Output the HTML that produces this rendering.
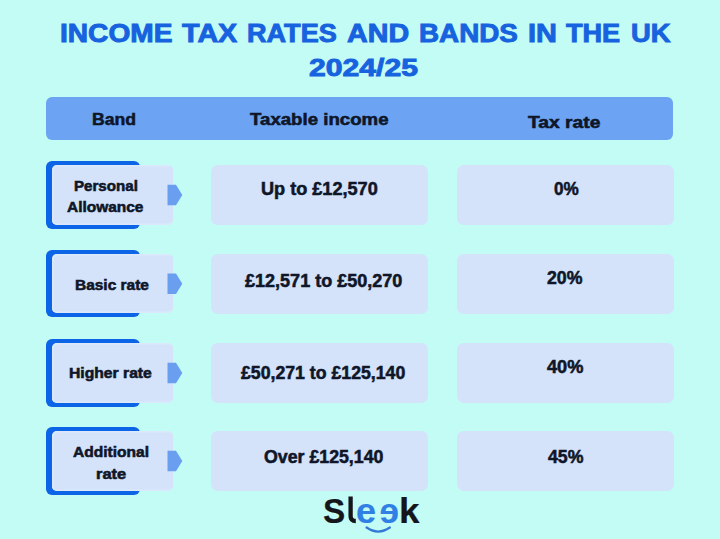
<!DOCTYPE html><html><head><meta charset="utf-8"><style>
html,body{margin:0;padding:0}
body{width:720px;height:539px;overflow:hidden;position:relative;background:#c3fbf5;font-family:"Liberation Sans",sans-serif}
.a{position:absolute}
.tx{position:absolute;white-space:nowrap;line-height:1;font-weight:700;transform-origin:0 0}
</style></head><body>

<div class="a" style="left:46.2px;top:97px;width:626.9px;height:42.8px;border-radius:6px;background:#6ca4f3"></div>
<div class="a" style="left:45.9px;top:160.8px;width:94.6px;height:68.2px;border-radius:6px;background:#0c64e6"></div>
<div class="a" style="left:51.8px;top:164.7px;width:121.2px;height:60.3px;border-radius:5px;background:#d4e2fa;box-shadow:inset 1.5px 1.5px 0 #dce9fc,inset 0 -1.5px 0 #dce9fc"></div>
<svg class="a" style="left:0;top:0" width="720" height="539"><polygon points="167.5,184.7 176,184.7 182.3,195.0 176,205.3 167.5,205.3" fill="#6a9ff0"/></svg>
<div class="a" style="left:211px;top:165.0px;width:216.5px;height:60.0px;border-radius:7px;background:#d4e2fa"></div>
<div class="a" style="left:457px;top:165.0px;width:216.5px;height:60.0px;border-radius:7px;background:#d4e2fa"></div>
<div class="a" style="left:45.9px;top:249.8px;width:94.6px;height:67.7px;border-radius:6px;background:#0c64e6"></div>
<div class="a" style="left:51.8px;top:253.7px;width:121.2px;height:59.8px;border-radius:5px;background:#d4e2fa;box-shadow:inset 1.5px 1.5px 0 #dce9fc,inset 0 -1.5px 0 #dce9fc"></div>
<svg class="a" style="left:0;top:0" width="720" height="539"><polygon points="167.5,273.4 176,273.4 182.3,283.8 176,294.1 167.5,294.1" fill="#6a9ff0"/></svg>
<div class="a" style="left:211px;top:254.0px;width:216.5px;height:59.5px;border-radius:7px;background:#d4e2fa"></div>
<div class="a" style="left:457px;top:254.0px;width:216.5px;height:59.5px;border-radius:7px;background:#d4e2fa"></div>
<div class="a" style="left:45.9px;top:338.8px;width:94.6px;height:68.2px;border-radius:6px;background:#0c64e6"></div>
<div class="a" style="left:51.8px;top:342.7px;width:121.2px;height:60.3px;border-radius:5px;background:#d4e2fa;box-shadow:inset 1.5px 1.5px 0 #dce9fc,inset 0 -1.5px 0 #dce9fc"></div>
<svg class="a" style="left:0;top:0" width="720" height="539"><polygon points="167.5,362.7 176,362.7 182.3,373.0 176,383.3 167.5,383.3" fill="#6a9ff0"/></svg>
<div class="a" style="left:211px;top:343.0px;width:216.5px;height:60.0px;border-radius:7px;background:#d4e2fa"></div>
<div class="a" style="left:457px;top:343.0px;width:216.5px;height:60.0px;border-radius:7px;background:#d4e2fa"></div>
<div class="a" style="left:45.9px;top:426.8px;width:94.6px;height:68.2px;border-radius:6px;background:#0c64e6"></div>
<div class="a" style="left:51.8px;top:430.7px;width:121.2px;height:60.3px;border-radius:5px;background:#d4e2fa;box-shadow:inset 1.5px 1.5px 0 #dce9fc,inset 0 -1.5px 0 #dce9fc"></div>
<svg class="a" style="left:0;top:0" width="720" height="539"><polygon points="167.5,450.7 176,450.7 182.3,461.0 176,471.3 167.5,471.3" fill="#6a9ff0"/></svg>
<div class="a" style="left:211px;top:431.0px;width:216.5px;height:60.0px;border-radius:7px;background:#d4e2fa"></div>
<div class="a" style="left:457px;top:431.0px;width:216.5px;height:60.0px;border-radius:7px;background:#d4e2fa"></div>
<div class="tx" id="t1a" style="left:59.58px;top:21.25px;font-size:25.00px;color:#1762de;transform:scaleX(1.1242);letter-spacing:0.00px;-webkit-text-stroke:0.90px #1762de">INCOME</div>
<div class="tx" id="t1b" style="left:182.00px;top:21.25px;font-size:25.00px;color:#1762de;transform:scaleX(1.1479);letter-spacing:0.00px;-webkit-text-stroke:0.90px #1762de">TAX</div>
<div class="tx" id="t1c" style="left:247.32px;top:21.25px;font-size:25.00px;color:#1762de;transform:scaleX(1.0829);letter-spacing:0.00px;-webkit-text-stroke:0.90px #1762de">RATES</div>
<div class="tx" id="t1d" style="left:347.00px;top:21.25px;font-size:25.00px;color:#1762de;transform:scaleX(1.1463);letter-spacing:0.00px;-webkit-text-stroke:0.90px #1762de">AND</div>
<div class="tx" id="t1e" style="left:418.79px;top:21.25px;font-size:25.00px;color:#1762de;transform:scaleX(1.1125);letter-spacing:0.00px;-webkit-text-stroke:0.90px #1762de">BANDS</div>
<div class="tx" id="t1f" style="left:528.24px;top:21.25px;font-size:25.00px;color:#1762de;transform:scaleX(1.1565);letter-spacing:0.00px;-webkit-text-stroke:0.90px #1762de">IN</div>
<div class="tx" id="t1g" style="left:565.80px;top:21.25px;font-size:25.00px;color:#1762de;transform:scaleX(1.0840);letter-spacing:0.00px;-webkit-text-stroke:0.90px #1762de">THE</div>
<div class="tx" id="t1h" style="left:630.61px;top:21.25px;font-size:25.00px;color:#1762de;transform:scaleX(1.0943);letter-spacing:0.00px;-webkit-text-stroke:0.90px #1762de">UK</div>
<div class="tx" id="t2" style="left:309.00px;top:56.17px;font-size:24.50px;color:#1762de;transform:scaleX(1.2303);letter-spacing:0.00px;-webkit-text-stroke:0.90px #1762de">2024/25</div>
<div class="tx" id="h1" style="left:91.73px;top:110.77px;font-size:16.50px;color:#0f1628;transform:scaleX(1.0675);letter-spacing:0.00px;-webkit-text-stroke:0.55px #0f1628">Band</div>
<div class="tx" id="h2" style="left:250.00px;top:110.88px;font-size:16.50px;color:#0f1628;transform:scaleX(1.1301);letter-spacing:0.00px;-webkit-text-stroke:0.55px #0f1628">Taxable income</div>
<div class="tx" id="h3" style="left:528.30px;top:114.28px;font-size:16.50px;color:#0f1628;transform:scaleX(1.1661);letter-spacing:0.00px;-webkit-text-stroke:0.55px #0f1628">Tax rate</div>
<div class="tx" id="r1a" style="left:73.53px;top:178.53px;font-size:14.20px;color:#0f1628;transform:scaleX(1.0655);letter-spacing:0.00px;-webkit-text-stroke:0.55px #0f1628">Personal</div>
<div class="tx" id="r1b" style="left:67.10px;top:199.63px;font-size:14.20px;color:#0f1628;transform:scaleX(1.0886);letter-spacing:0.00px;-webkit-text-stroke:0.55px #0f1628">Allowance</div>
<div class="tx" id="r1c" style="left:260.69px;top:180.00px;font-size:18.00px;color:#0f1628;transform:scaleX(1.0061);letter-spacing:0.00px;-webkit-text-stroke:0.55px #0f1628">Up to £12,570</div>
<div class="tx" id="r1d" style="left:553.80px;top:180.38px;font-size:18.50px;color:#0f1628;transform:scaleX(0.9259);letter-spacing:0.00px;-webkit-text-stroke:0.55px #0f1628">0%</div>
<div class="tx" id="r2a" style="left:74.91px;top:277.73px;font-size:14.20px;color:#0f1628;transform:scaleX(1.0896);letter-spacing:0.00px;-webkit-text-stroke:0.55px #0f1628">Basic rate</div>
<div class="tx" id="r2c" style="left:245.00px;top:271.90px;font-size:18.00px;color:#0f1628;transform:scaleX(1.0013);letter-spacing:0.00px;-webkit-text-stroke:0.55px #0f1628">£12,571 to £50,270</div>
<div class="tx" id="r2d" style="left:547.30px;top:269.07px;font-size:18.50px;color:#0f1628;transform:scaleX(0.9568);letter-spacing:0.00px;-webkit-text-stroke:0.55px #0f1628">20%</div>
<div class="tx" id="r3a" style="left:68.79px;top:365.83px;font-size:14.20px;color:#0f1628;transform:scaleX(1.1054);letter-spacing:0.00px;-webkit-text-stroke:0.55px #0f1628">Higher rate</div>
<div class="tx" id="r3c" style="left:241.40px;top:363.80px;font-size:18.00px;color:#0f1628;transform:scaleX(0.9826);letter-spacing:0.00px;-webkit-text-stroke:0.55px #0f1628">£50,271 to £125,140</div>
<div class="tx" id="r3d" style="left:547.00px;top:358.38px;font-size:18.50px;color:#0f1628;transform:scaleX(0.9838);letter-spacing:0.00px;-webkit-text-stroke:0.55px #0f1628">40%</div>
<div class="tx" id="r4a" style="left:73.00px;top:445.13px;font-size:14.20px;color:#0f1628;transform:scaleX(1.0957);letter-spacing:0.00px;-webkit-text-stroke:0.55px #0f1628">Additional</div>
<div class="tx" id="r4b" style="left:95.54px;top:467.23px;font-size:14.20px;color:#0f1628;transform:scaleX(1.1600);letter-spacing:0.00px;-webkit-text-stroke:0.55px #0f1628">rate</div>
<div class="tx" id="r4c" style="left:263.80px;top:447.50px;font-size:18.00px;color:#0f1628;transform:scaleX(0.9860);letter-spacing:0.00px;-webkit-text-stroke:0.55px #0f1628">Over £125,140</div>
<div class="tx" id="r4d" style="left:548.30px;top:447.97px;font-size:18.50px;color:#0f1628;transform:scaleX(0.9581);letter-spacing:0.00px;-webkit-text-stroke:0.55px #0f1628">45%</div>
<div class="tx" style="left:322.75px;top:493.2px;font-size:35px;color:#14161b;-webkit-text-stroke:0.2px #14161b;transform:scaleX(0.952)">S</div>
<svg class="a" style="left:0;top:0" width="720" height="539"><path d="M350.6,496.5 L350.6,516.3 Q350.6,521 355.8,521" fill="none" stroke="#14161b" stroke-width="4.3"/></svg>
<div class="tx" style="left:356.4px;top:493.3px;font-size:35px;color:#2f7fe4;-webkit-text-stroke:0.2px #2f7fe4;transform:scaleX(1.028)">e</div>
<div class="tx" style="left:378.8px;top:493.3px;width:20px;font-size:35px;color:#2f7fe4;-webkit-text-stroke:0.2px #2f7fe4;transform:scaleX(-1.0);transform-origin:10px 0">e</div>
<div class="tx" style="left:399.1px;top:493.3px;font-size:35px;color:#14161b;-webkit-text-stroke:0.2px #14161b;transform:scaleX(1.053)">k</div>
<svg class="a" style="left:0;top:0" width="720" height="539"><path d="M366.6,527.6 Q378.2,535.6 389.8,527.6" fill="none" stroke="#3479d6" stroke-width="2.4" stroke-linecap="round"/></svg>

</body></html>
